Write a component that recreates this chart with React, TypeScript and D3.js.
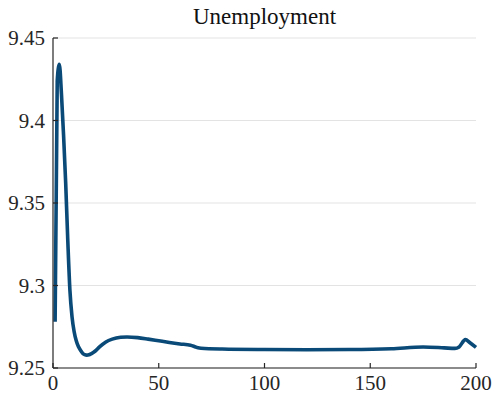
import React, { useEffect, useRef } from "react";
import * as d3 from "d3";

// Unemployment path over the simulation horizon
const periods = [1, 2, 3, 4, 5, 6, 7, 8, 9, 10, 11, 12, 13, 14, 15, 16, 17, 18, 20, 22, 25, 28, 32, 35, 40, 45, 50, 55, 60, 65, 68, 70, 80, 100, 120, 140, 160, 175, 185, 190, 192, 195, 197, 200];
const unemployment = [9.278, 9.424, 9.434, 9.416, 9.391, 9.362, 9.327, 9.297, 9.281, 9.272, 9.2665, 9.263, 9.2607, 9.259, 9.2581, 9.2578, 9.258, 9.2586, 9.2603, 9.2628, 9.2658, 9.2675, 9.2686, 9.2688, 9.2684, 9.2675, 9.2665, 9.2655, 9.2646, 9.2638, 9.2625, 9.262, 9.2615, 9.2612, 9.2611, 9.2612, 9.2617, 9.2627, 9.2622, 9.2619, 9.2628, 9.2672, 9.2655, 9.2625];

const xTicks = [0, 50, 100, 150, 200];
const yTicks = [9.25, 9.3, 9.35, 9.4, 9.45];
const yTickLabels = ["9.25", "9.3", "9.35", "9.4", "9.45"];
const title = "Unemployment";

const W = 494;
const H = 394;
const M = { left: 53, right: 18, top: 38, bottom: 26 };
const FAMILY = '"Liberation Serif"';

export default function App() {
  const ref = useRef<SVGSVGElement | null>(null);

  useEffect(() => {
    const svg = d3.select(ref.current);
    svg.selectAll("*").remove();

    const x = d3.scaleLinear().domain([0, 200]).range([M.left, W - M.right]);
    const y = d3.scaleLinear().domain([9.25, 9.45]).range([H - M.bottom, M.top]);
    const x0 = x(0);
    const x1 = x(200);
    const yb = y(9.25);
    const yt = y(9.45);
    const tick = 5;
    const ink = "#262626";

    svg.append("rect").attr("width", W).attr("height", H).attr("fill", "#fff");

    // horizontal grid
    svg
      .selectAll("line.grid")
      .data(yTicks)
      .join("line")
      .attr("class", "grid")
      .attr("x1", x0)
      .attr("x2", x1)
      .attr("y1", (d) => y(d))
      .attr("y2", (d) => y(d))
      .attr("stroke", "#e3e3e3")
      .attr("stroke-width", 1);

    // series
    const line = d3
      .line<number>()
      .x((_, i) => x(periods[i]))
      .y((d) => y(d))
      .curve(d3.curveMonotoneX);

    svg
      .append("path")
      .attr("d", line(unemployment) ?? "")
      .attr("fill", "none")
      .attr("stroke", "#0a4a78")
      .attr("stroke-width", 3.6)
      .attr("stroke-linejoin", "round");

    // axes
    svg.append("line").attr("x1", x0).attr("x2", x0).attr("y1", yt).attr("y2", yb).attr("stroke", ink).attr("stroke-width", 1.2);
    svg.append("line").attr("x1", x0).attr("x2", x1).attr("y1", yb).attr("y2", yb).attr("stroke", ink).attr("stroke-width", 1.2);

    svg
      .selectAll("line.ytick")
      .data(yTicks)
      .join("line")
      .attr("class", "ytick")
      .attr("x1", x0)
      .attr("x2", x0 + tick)
      .attr("y1", (d) => y(d))
      .attr("y2", (d) => y(d))
      .attr("stroke", ink)
      .attr("stroke-width", 1.2);

    svg
      .selectAll("line.xtick")
      .data(xTicks)
      .join("line")
      .attr("class", "xtick")
      .attr("x1", (d) => x(d))
      .attr("x2", (d) => x(d))
      .attr("y1", yb)
      .attr("y2", yb - tick)
      .attr("stroke", ink)
      .attr("stroke-width", 1.2);

    svg
      .selectAll("text.ylab")
      .data(yTicks)
      .join("text")
      .attr("class", "ylab")
      .attr("x", x0 - 8)
      .attr("y", (d) => y(d) + 7)
      .attr("text-anchor", "end")
      .attr("fill", ink)
      .style("font-size", "21px")
      .style("font-family", FAMILY, "important")
      .text((_, i) => yTickLabels[i]);

    svg
      .selectAll("text.xlab")
      .data(xTicks)
      .join("text")
      .attr("class", "xlab")
      .attr("x", (d) => x(d))
      .attr("y", yb + 22)
      .attr("text-anchor", "middle")
      .attr("fill", ink)
      .style("font-size", "21px")
      .style("font-family", FAMILY, "important")
      .text((d) => String(d));

    svg
      .append("text")
      .attr("x", (x0 + x1) / 2)
      .attr("y", 24)
      .attr("text-anchor", "middle")
      .attr("fill", "#111")
      .style("font-size", "23px")
      .style("font-family", FAMILY, "important")
      .text(title);
  }, []);

  return <svg ref={ref} width={W} height={H} style={{ position: "absolute", left: 0, top: 0 }} />;
}
